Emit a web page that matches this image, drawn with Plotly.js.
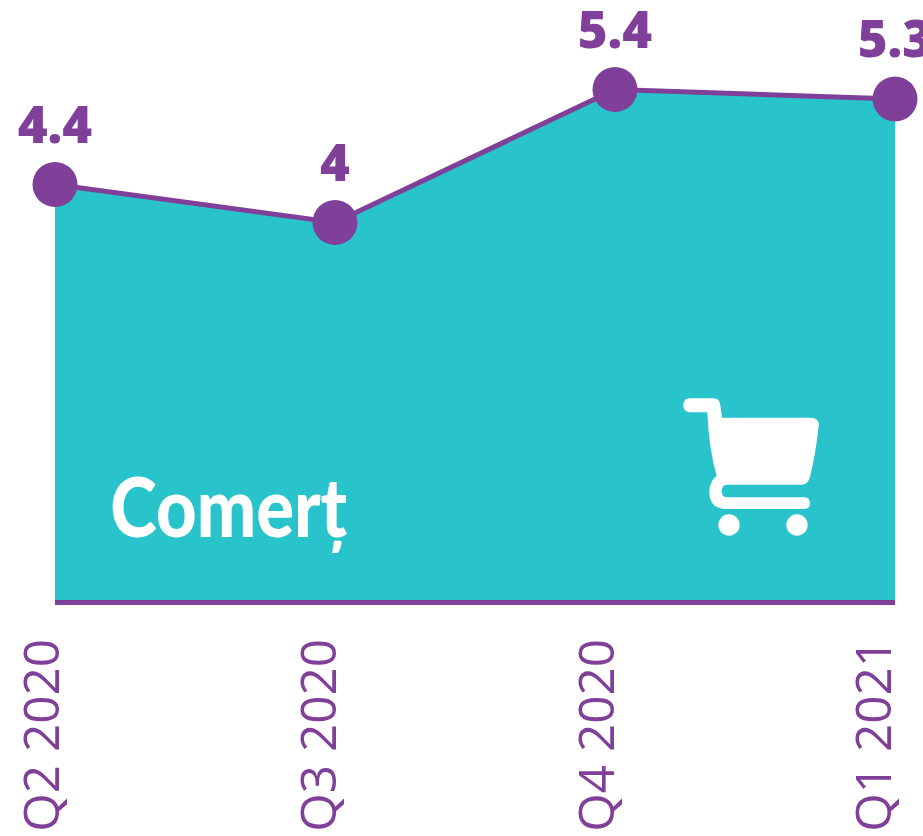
<!DOCTYPE html>
<html><head><meta charset="utf-8">
<script src="https://cdn.plot.ly/plotly-3.0.1.min.js"></script>
<style>html,body{margin:0;padding:0;background:#fff;overflow:hidden}</style>
</head><body><div id="c" style="width:923px;height:836px"></div>
<script>
const quarters = ["Q2 2020","Q3 2020","Q4 2020","Q1 2021"];
const positions = [0,1,2,3];
const values = [4.4,4,5.4,5.3];
const labels = ["4.4","4","5.4","5.3"];
const sectorName = "Comerț";

const purple = "#803F98", teal = "#29C4CB";
const W = 923, H = 612;
const px = (x,y)=>(x/W).toFixed(5)+","+(1-y/H).toFixed(5);
const cartPath = "M"+px(690,398.3)+" L"+px(714,398.3)+" Q"+px(719.5,398.5)+" "+px(720.3,405)
 +" L"+px(722,417.7)+" L"+px(811,417.7)+" Q"+px(819.5,418)+" "+px(818.7,426)
 +" Q"+px(816,452)+" "+px(810,477)+" Q"+px(808,484.7)+" "+px(801,484.7)
 +" L"+px(727,484.7)+" Q"+px(721.7,485)+" "+px(721.7,491)+" Q"+px(721.7,497.3)+" "+px(727,497.3)
 +" L"+px(804,497.3)+" Q"+px(810,497.5)+" "+px(810,503.3)+" Q"+px(810,509)+" "+px(804,509)
 +" L"+px(725,509)+" Q"+px(709.3,508)+" "+px(709.3,491.7)+" Q"+px(709.5,481)+" "+px(716.7,476)
 +" Q"+px(709,450)+" "+px(707.3,412.3)+" L"+px(690,412.3)+" Q"+px(683.3,412)+" "+px(683.3,405.3)
 +" Q"+px(683.3,398.5)+" "+px(690,398.3)+" Z";
const wheel = (cx)=>({type:"circle",xref:"paper",yref:"paper",x0:(cx-10.7)/W,x1:(cx+10.7)/W,
  y0:1-(525+10.7)/H,y1:1-(525-10.7)/H,fillcolor:"#fff",line:{width:0}});

const traces = [
 {x:positions,y:values,type:"scatter",mode:"none",fill:"tozeroy",fillcolor:teal,hoverinfo:"skip"},
 {x:positions,y:values,type:"scatter",mode:"lines+markers+text",text:labels,textposition:"top center",
  cliponaxis:false,
  textfont:{family:"'Open Sans',sans-serif",size:51,color:purple,weight:800},
  line:{color:purple,width:5},marker:{color:purple,size:45}},
 {x:positions,y:positions.map(()=>0),xaxis:"x2",type:"scatter",mode:"lines",line:{width:0},hoverinfo:"skip"}
];
const layout = {
 width:923,height:836,margin:{l:0,r:0,t:0,b:224,pad:0},showlegend:false,
 paper_bgcolor:"#fff",plot_bgcolor:"#fff",
 xaxis:{range:[-55/280,(923-55)/280],showgrid:false,zeroline:false,showticklabels:false,ticks:"",showline:false,fixedrange:true},
 xaxis2:{overlaying:"x",anchor:"y",side:"bottom",range:[-43/277.33,(923-43)/277.33],tickmode:"array",
   tickvals:positions,ticktext:quarters,tickangle:-90,ticks:"",ticklen:0,ticklabelstandoff:16,showgrid:false,zeroline:false,showline:false,
   tickfont:{family:"'Open Sans',sans-serif",size:49.5,color:purple,weight:400},fixedrange:true},
 yaxis:{range:[-9.5/95,602.5/95],showgrid:false,zeroline:false,showticklabels:false,ticks:"",showline:false,fixedrange:true},
 shapes:[
  {type:"line",xref:"x",yref:"y",x0:positions[0],x1:positions[3],y0:0,y1:0,line:{color:purple,width:5}},
  {type:"path",xref:"paper",yref:"paper",path:cartPath,fillcolor:"#fff",line:{width:0}},
  wheel(729),wheel(797)
 ],
 annotations:[{xref:"paper",yref:"paper",x:228.5/W,y:1-(505/H),xanchor:"center",yanchor:"middle",showarrow:false,text:sectorName,
  font:{family:"Lato,sans-serif",size:82,color:"#fff",weight:900}}]
};
Plotly.newPlot("c",traces,layout,{displayModeBar:false,staticPlot:true}).then(()=>{
  const t=document.querySelector(".annotation-text");
  if(t){t.setAttribute("textLength","237");t.setAttribute("lengthAdjust","spacingAndGlyphs");}
});
</script></body></html>
